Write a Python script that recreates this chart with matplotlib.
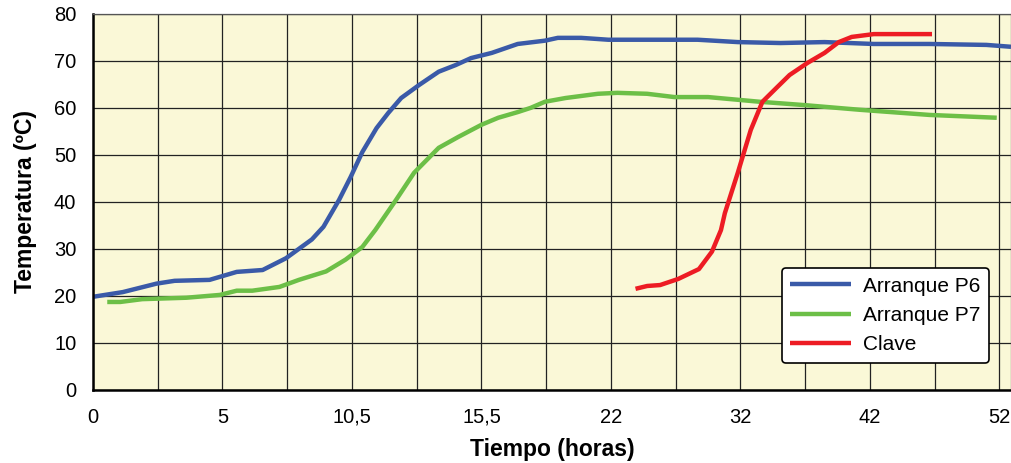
import matplotlib
matplotlib.use("Agg")
import matplotlib.pyplot as plt
from matplotlib.ticker import MultipleLocator

plt.rcParams["font.family"] = ["Liberation Sans", "DejaVu Sans"]

# x positions are grid units: one unit per labelled tick
x_labels = ["0", "5", "10,5", "15,5", "22", "32", "42", "52"]

p6_x = [0, 0.23, 0.49, 0.63, 0.90, 1.11, 1.31, 1.49, 1.69, 1.78, 1.90, 1.99, 2.08,
        2.19, 2.28, 2.38, 2.52, 2.67, 2.80, 2.92, 3.08, 3.28, 3.49, 3.59, 3.77,
        3.98, 4.67, 4.98, 5.31, 5.65, 6.03, 6.46, 6.90, 7.09]
p6_y = [19.8, 20.8, 22.6, 23.2, 23.4, 25.1, 25.5, 28.0, 32.0, 34.7, 40.4, 45.3, 50.6,
        55.7, 58.9, 62.1, 64.9, 67.7, 69.1, 70.6, 71.7, 73.6, 74.3, 74.9, 74.9,
        74.5, 74.5, 74.0, 73.8, 74.0, 73.6, 73.6, 73.4, 73.0]

p7_x = [0.11, 0.21, 0.38, 0.72, 0.98, 1.11, 1.23, 1.44, 1.59, 1.80, 1.95, 2.08, 2.18,
        2.34, 2.48, 2.67, 2.82, 3.00, 3.13, 3.28, 3.38, 3.49, 3.65, 3.90, 4.05,
        4.28, 4.49, 4.75, 5.15, 5.49, 5.92, 6.46, 6.98]
p7_y = [18.7, 18.7, 19.3, 19.6, 20.2, 21.1, 21.1, 21.9, 23.4, 25.2, 27.7, 30.4, 34.0,
        40.4, 46.2, 51.5, 53.8, 56.4, 57.9, 59.1, 60.0, 61.3, 62.1, 63.0, 63.2,
        63.0, 62.3, 62.3, 61.3, 60.6, 59.6, 58.5, 57.9]

clave_x = [4.19, 4.28, 4.38, 4.52, 4.68, 4.78, 4.85, 4.88, 4.98, 5.08, 5.17, 5.28,
           5.38, 5.52, 5.65, 5.76, 5.86, 6.03, 6.48]
clave_y = [21.5, 22.1, 22.3, 23.6, 25.7, 29.4, 34.0, 37.6, 46.2, 55.3, 61.3, 64.3,
           67.0, 69.6, 71.7, 74.0, 75.1, 75.7, 75.7]

fig = plt.figure(figsize=(10.11, 4.63), dpi=100)
ax = fig.add_axes([0.092, 0.158, 0.908, 0.812])
ax.set_facecolor("#faf8d7")

ax.plot(p6_x, p6_y, color="#3a5aa8", lw=3.2, label="Arranque P6", solid_capstyle="butt")
ax.plot(p7_x, p7_y, color="#6cbf47", lw=3.2, label="Arranque P7", solid_capstyle="butt")
ax.plot(clave_x, clave_y, color="#ed1c24", lw=3.2, label="Clave", solid_capstyle="butt")

ax.set_xlim(0, 7.09)
ax.set_ylim(0, 80)
ax.set_xticks(range(len(x_labels)))
ax.set_xticklabels(x_labels)
ax.xaxis.set_minor_locator(MultipleLocator(0.5))
ax.yaxis.set_major_locator(MultipleLocator(10))
ax.grid(True, which="both", color="#222222", lw=0.9)
ax.set_axisbelow(True)
ax.tick_params(axis="both", which="both", length=0, labelsize=14.5)
ax.tick_params(axis="x", pad=13)
ax.tick_params(axis="y", pad=12)

for side in ["top", "right"]:
    ax.spines[side].set_color("#555555")
    ax.spines[side].set_linewidth(0.9)
for side in ["left", "bottom"]:
    ax.spines[side].set_color("black")
    ax.spines[side].set_linewidth(1.8)

ax.set_xlabel("Tiempo (horas)", fontsize=16.5, fontweight="bold", labelpad=8)
ax.set_ylabel("Temperatura (ºC)", fontsize=16.5, fontweight="bold", labelpad=12)

leg = ax.legend(loc="lower right", bbox_to_anchor=(0.976, 0.072), borderaxespad=0,
                fontsize=15, frameon=True, fancybox=True, edgecolor="black",
                framealpha=1, handlelength=2.9, handletextpad=0.6, borderpad=0.4,
                labelspacing=0.5)
leg.get_frame().set_linewidth(1.2)

fig.savefig("out.png", dpi=100)
